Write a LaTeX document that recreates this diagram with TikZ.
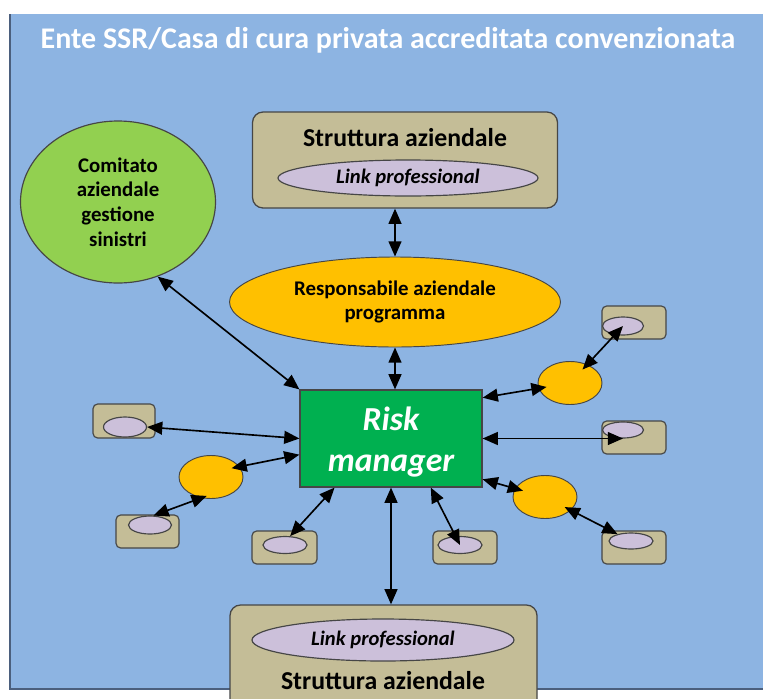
\documentclass[tikz,border=0pt]{standalone}
\usepackage{fontspec}
\setmainfont{Carlito}
\usetikzlibrary{positioning, shapes.geometric, arrows.meta}
\definecolor{bgblue}{RGB}{141,180,226}
\definecolor{frameblue}{RGB}{75,95,125}
\definecolor{edgegrey}{RGB}{70,70,70}
\definecolor{tanbox}{RGB}{196,189,151}
\definecolor{linklilac}{RGB}{204,192,218}
\definecolor{amber}{RGB}{255,192,0}
\definecolor{leafgreen}{RGB}{146,208,80}
\definecolor{riskgreen}{RGB}{0,176,80}
\def\px{0.03cm}

\tikzset{
  strutbox/.style={draw=edgegrey, fill=tanbox, line width=1.1pt, rounded corners=9pt, inner sep=0pt},
  smallbox/.style={draw=edgegrey, fill=tanbox, line width=1pt, rounded corners=4pt, inner sep=0pt,
    minimum width=64*\px, minimum height=33*\px},
  linkell/.style={ellipse, draw=edgegrey, fill=linklilac, line width=1pt, inner sep=0pt},
  amberdot/.style={ellipse, draw=edgegrey, fill=amber, line width=0.8pt, inner sep=0pt,
    minimum width=64*\px, minimum height=43*\px},
  biarrow/.style={{Triangle[length=13pt,width=11pt]}-{Triangle[length=13pt,width=11pt]}, line width=1.4pt, black},
  inside/.style={shorten >=-7pt}
}

\begin{document}
\begin{tikzpicture}[x=\px, y=-\px, every node/.style={font=\bfseries}]

\clip (0,0) rectangle (763,698);
\fill[white] (0,0) rectangle (763,698);

% Background frame
\fill[bgblue] (10,14) rectangle (780,689);
\draw[frameblue, line width=1pt] (10,14) -- (10,689) -- (780,689);
\node[text=white, font=\bfseries\fontsize{25.6}{28}\selectfont] (title) at (388,40)
  {Ente SSR/Casa di cura privata accreditata convenzionata};

% --- Top: Struttura aziendale ---
\node[strutbox, minimum width=305*\px, minimum height=96*\px] (topbox) at (405,160) {};
\node[font=\bfseries\fontsize{22}{24}\selectfont] (toptitle) at (405,138) {Struttura aziendale};
\node[linkell, minimum width=260*\px, minimum height=36*\px,
  font=\bfseries\itshape\fontsize{17.6}{20}\selectfont] (toplink) at (408,178) {Link professional};

% --- Comitato ---
\node[ellipse, draw=edgegrey, fill=leafgreen, line width=1pt, minimum width=195*\px,
  minimum height=162*\px, align=center, inner sep=0pt,
  font=\bfseries\fontsize{17.8}{21}\selectfont] (comitato) at (118,202)
  {Comitato\\aziendale\\gestione\\sinistri};

% --- Responsabile aziendale programma ---
\node[ellipse, draw=edgegrey, fill=amber, line width=0.8pt, minimum width=331*\px,
  minimum height=90*\px, align=center, inner sep=0pt,
  font=\bfseries\fontsize{17.8}{20.5}\selectfont] (resp) at (395,302)
  {Responsabile aziendale\\programma};

% --- Risk manager ---
\node[draw=edgegrey, fill=riskgreen, line width=1pt, minimum width=182*\px,
  minimum height=97*\px, inner sep=0pt] (risk) at (391,438.5) {};
\node[text=white, align=center, font=\bfseries\itshape\fontsize{28.7}{35}\selectfont]
  (risktext) at (391,442) {Risk\\manager};

% --- Bottom: Struttura aziendale ---
\node[strutbox, minimum width=307*\px, minimum height=114*\px] (botbox) at (383.5,662) {};
\node[linkell, minimum width=262*\px, minimum height=42*\px,
  font=\bfseries\itshape\fontsize{17.6}{20}\selectfont] (botlink) at (383,640) {Link professional};
\node[font=\bfseries\fontsize{22}{24}\selectfont] (bottitle) at (383,681) {Struttura aziendale};

% --- Small units, left ---
\node[smallbox, minimum width=62*\px, minimum height=34*\px] (lb1) at (124,421) {};
\node[linkell, minimum width=43*\px, minimum height=20*\px] (le1) at (125,427) {};
\node[smallbox, minimum width=63*\px] (lb2) at (147.5,531.5) {};
\node[linkell, minimum width=43*\px, minimum height=18*\px] (le2) at (150,525) {};
\node[amberdot] (lorange) at (211,477) {};

% --- Small units, bottom ---
\node[smallbox, minimum width=65*\px] (bb1) at (284.5,547.5) {};
\node[linkell, minimum width=44*\px, minimum height=17*\px] (be1) at (285,545) {};
\node[smallbox] (bb2) at (465,547.5) {};
\node[linkell, minimum width=44*\px, minimum height=17*\px] (be2) at (460,545) {};

% --- Small units, right ---
\node[smallbox] (rb1) at (634,322.5) {};
\node[linkell, minimum width=41*\px, minimum height=18*\px] (re1) at (623,326) {};
\node[amberdot] (rorange1) at (570,383) {};
\node[smallbox] (rb2) at (634,437.5) {};
\node[linkell, minimum width=41*\px, minimum height=16*\px] (re2) at (623,430) {};
\node[amberdot] (rorange2) at (545,497) {};
\node[smallbox] (rb3) at (634,547.5) {};
\node[linkell, minimum width=44*\px, minimum height=16*\px] (re3) at (631,541) {};

% Connectors
\draw[biarrow] (topbox.south -| resp.north) -- (resp.north);
\draw[biarrow] (resp.south) -- (risk.north -| resp.south);
\draw[biarrow] (comitato.-62) -- (risk.north west);
\draw[biarrow] (le1.east) -- (risk.west);
\draw[biarrow, shorten <=-7pt] (lorange.20) -- (risk.190);
\draw[biarrow, shorten <=-5pt] (lorange.-115) -- (le2.70);
\draw[biarrow] (risk.-139) -- (be1.60);
\draw[biarrow] (risk.south) -- (risk.south |- botbox.north);
\draw[biarrow] (risk.-51) -- (be2.center);
\draw[biarrow, inside] (risk.24) -- (rorange1);
\draw[biarrow, shorten <=-6pt] (rorange1) -- (re1.center);
\draw[biarrow] (risk.east) -- (risk.east -| re2.center);
\draw[biarrow, inside] (risk.-24) -- (rorange2);
\draw[biarrow, shorten <=-6pt] (rorange2) -- (re3);

\end{tikzpicture}
\end{document}
